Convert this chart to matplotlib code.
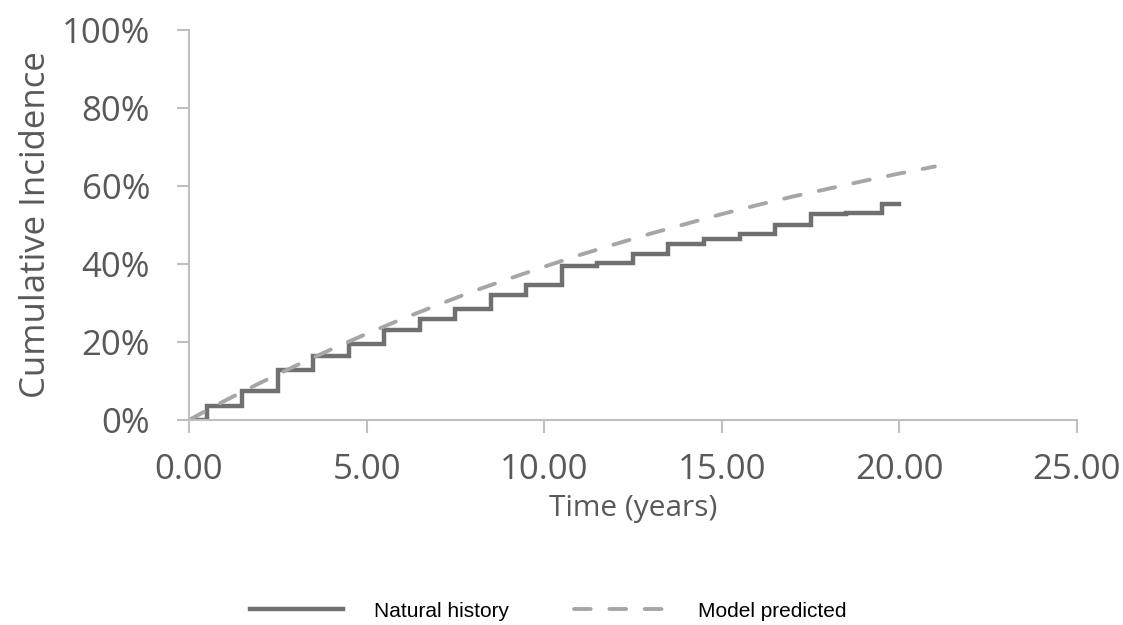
import matplotlib
matplotlib.use("Agg")
import matplotlib.pyplot as plt
from matplotlib.ticker import FuncFormatter

# Natural history: step changes at each half year
step_times = [0, 0.5, 1.5, 2.5, 3.5, 4.5, 5.5, 6.5, 7.5, 8.5, 9.5, 10.5,
              11.5, 12.5, 13.5, 14.5, 15.5, 16.5, 17.5, 18.5, 19.5, 20.0]
step_values = [0, 3.5, 7.5, 12.8, 16.4, 19.6, 23.1, 25.8, 28.5, 32.0, 34.6, 39.6,
               40.2, 42.5, 45.2, 46.5, 47.7, 50.0, 52.7, 53.1, 55.3, 55.3]

# Model predicted curve
model_times = [0, 1, 2, 3, 4, 5, 6, 7, 8, 9, 10, 11, 12, 13, 14, 15, 16, 17, 18, 19, 20, 21]
model_values = [0, 4.9, 9.5, 13.9, 18.1, 22.1, 25.9, 29.5, 33.0, 36.2, 39.3, 42.3,
                45.1, 47.8, 50.3, 52.8, 55.1, 57.3, 59.3, 61.3, 63.2, 65.0]

x_ticks = [0, 5, 10, 15, 20, 25]
y_ticks = [0, 20, 40, 60, 80, 100]

TEXT = "#595959"
AXIS = "#bfbfbf"

fig = plt.figure(figsize=(11.23, 6.25), dpi=100)
ax = fig.add_axes([0.1683, 0.328, 0.7907, 0.624])

line_nat, = ax.step(step_times, step_values, where="post", color="#707070",
                    lw=3.2, solid_joinstyle="miter", label="Natural history")
line_mod, = ax.plot(model_times, model_values, color="#a6a6a6", lw=2.8,
                    dashes=(4.3, 4.8), dash_capstyle="round", label="Model predicted")

ax.set_xlim(0, 25)
ax.set_ylim(0, 100)
ax.set_xticks(x_ticks)
ax.set_yticks(y_ticks)
ax.xaxis.set_major_formatter(FuncFormatter(lambda v, p: f"{v:.2f}"))
ax.yaxis.set_major_formatter(FuncFormatter(lambda v, p: f"{v:.0f}%"))

for side in ["top", "right"]:
    ax.spines[side].set_visible(False)
for side in ["left", "bottom"]:
    ax.spines[side].set_color(AXIS)
    ax.spines[side].set_linewidth(1.5)

ax.tick_params(axis="both", colors=AXIS, length=9, width=1.5, direction="out")
ax.tick_params(axis="y", pad=19)
ax.tick_params(axis="x", pad=15)
for lbl in ax.get_xticklabels() + ax.get_yticklabels():
    lbl.set_color(TEXT)
    lbl.set_fontfamily("Open Sans")
    lbl.set_fontsize(25)

ax.set_xlabel("Time (years)", fontfamily="Open Sans", fontsize=21.5, color=TEXT, labelpad=5)
ax.set_ylabel("Cumulative Incidence", fontfamily="Open Sans", fontsize=25, color=TEXT, labelpad=6)

fig.legend(handles=[line_nat, line_mod], loc="center", bbox_to_anchor=(0.488, 0.022),
           ncol=2, frameon=False, handlelength=4.45, handletextpad=1.5,
           columnspacing=3.1, prop={"family": "Liberation Sans", "size": 15})

fig.savefig("out.png", dpi=100)
